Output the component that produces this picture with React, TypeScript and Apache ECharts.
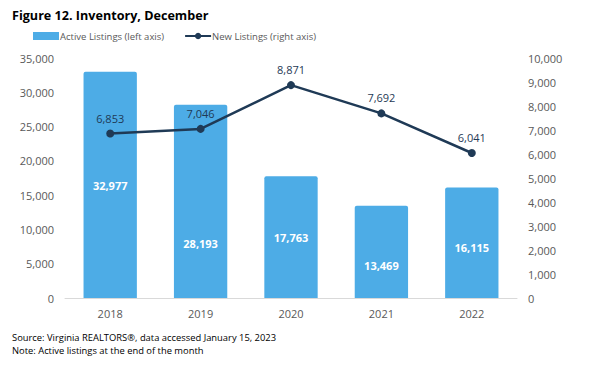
import React, { useEffect, useRef } from "react";
import * as echarts from "echarts";

const years = ["2018", "2019", "2020", "2021", "2022"];
const activeListings = [32977, 28193, 17763, 13469, 16115];
const newListings = [6853, 7046, 8871, 7692, 6041];
const activeLabelOffsets = [1, 42, 0, 14, 5];

const FONT = "'Open Sans', sans-serif";

export default function App() {
  const ref = useRef<HTMLDivElement>(null);
  useEffect(() => {
    const chart = echarts.init(ref.current!, null, { renderer: "svg" });
    const fmt = (v: number) => v.toLocaleString("en-US");
    chart.setOption({
      animation: false,
      textStyle: { fontFamily: FONT },
      title: {
        text: "Figure 12. Inventory, December",
        left: 12,
        top: 9,
        padding: 0,
        textStyle: { fontFamily: FONT, fontSize: 12.6, fontWeight: "bold", color: "#000" },
      },
      legend: {
        left: 33,
        top: 31,
        padding: 0,
        itemWidth: 26,
        itemHeight: 8,
        itemGap: 20,
        textStyle: { fontFamily: FONT, fontSize: 9.5, color: "#595959", padding: [0, 0, 0, -4] },
        data: [
          { name: "Active Listings (left axis)", icon: "rect" },
          { name: "New Listings (right axis)" },
        ],
      },
      graphic: [
        {
          type: "text",
          left: 12,
          top: 331,
          style: {
            text: "Source: Virginia REALTORS®, data accessed January 15, 2023\nNote: Active listings at the end of the month",
            font: `9.4px ${FONT}`,
            fill: "#000",
            lineHeight: 13,
          },
        },
      ],
      grid: { left: 65, right: 83, top: 58, bottom: 74 },
      xAxis: {
        type: "category",
        data: years,
        axisLine: { lineStyle: { color: "#d9d9d9", width: 1 } },
        axisTick: { show: false },
        axisLabel: { color: "#595959", fontSize: 11, margin: 10, fontFamily: FONT },
      },
      yAxis: [
        {
          type: "value",
          min: 0,
          max: 35000,
          interval: 5000,
          splitLine: { show: false },
          axisLine: { show: false },
          axisTick: { show: false },
          axisLabel: { color: "#595959", fontSize: 11, margin: 11, fontFamily: FONT, formatter: fmt },
        },
        {
          type: "value",
          min: 0,
          max: 10000,
          interval: 1000,
          splitLine: { show: false },
          axisLine: { show: false },
          axisTick: { show: false },
          axisLabel: { color: "#595959", fontSize: 11, margin: 11, fontFamily: FONT, formatter: fmt },
        },
      ],
      series: [
        {
          name: "Active Listings (left axis)",
          type: "bar",
          yAxisIndex: 0,
          barWidth: "59%",
          itemStyle: { color: "#4DACE6", borderRadius: [2, 2, 0, 0] },
          data: activeListings.map((v, i) => ({
            value: v,
            label: { offset: [0, activeLabelOffsets[i]] },
          })),
          label: {
            show: true,
            position: "inside",
            color: "#fff",
            fontWeight: "bold",
            fontSize: 11,
            fontFamily: FONT,
            formatter: (p: any) => fmt(p.value),
          },
        },
        {
          name: "New Listings (right axis)",
          type: "line",
          yAxisIndex: 1,
          data: newListings,
          symbol: "circle",
          symbolSize: 8,
          lineStyle: { color: "#1F3A56", width: 2.5 },
          itemStyle: { color: "#1F3A56" },
          label: {
            show: true,
            position: "top",
            distance: 6,
            color: "#1F3A56",
            fontSize: 11,
            fontFamily: FONT,
            formatter: (p: any) => fmt(p.value),
          },
        },
      ],
    });
    return () => chart.dispose();
  }, []);
  return <div ref={ref} style={{ width: 600, height: 372, position: "absolute", left: 0, top: 0 }} />;
}
